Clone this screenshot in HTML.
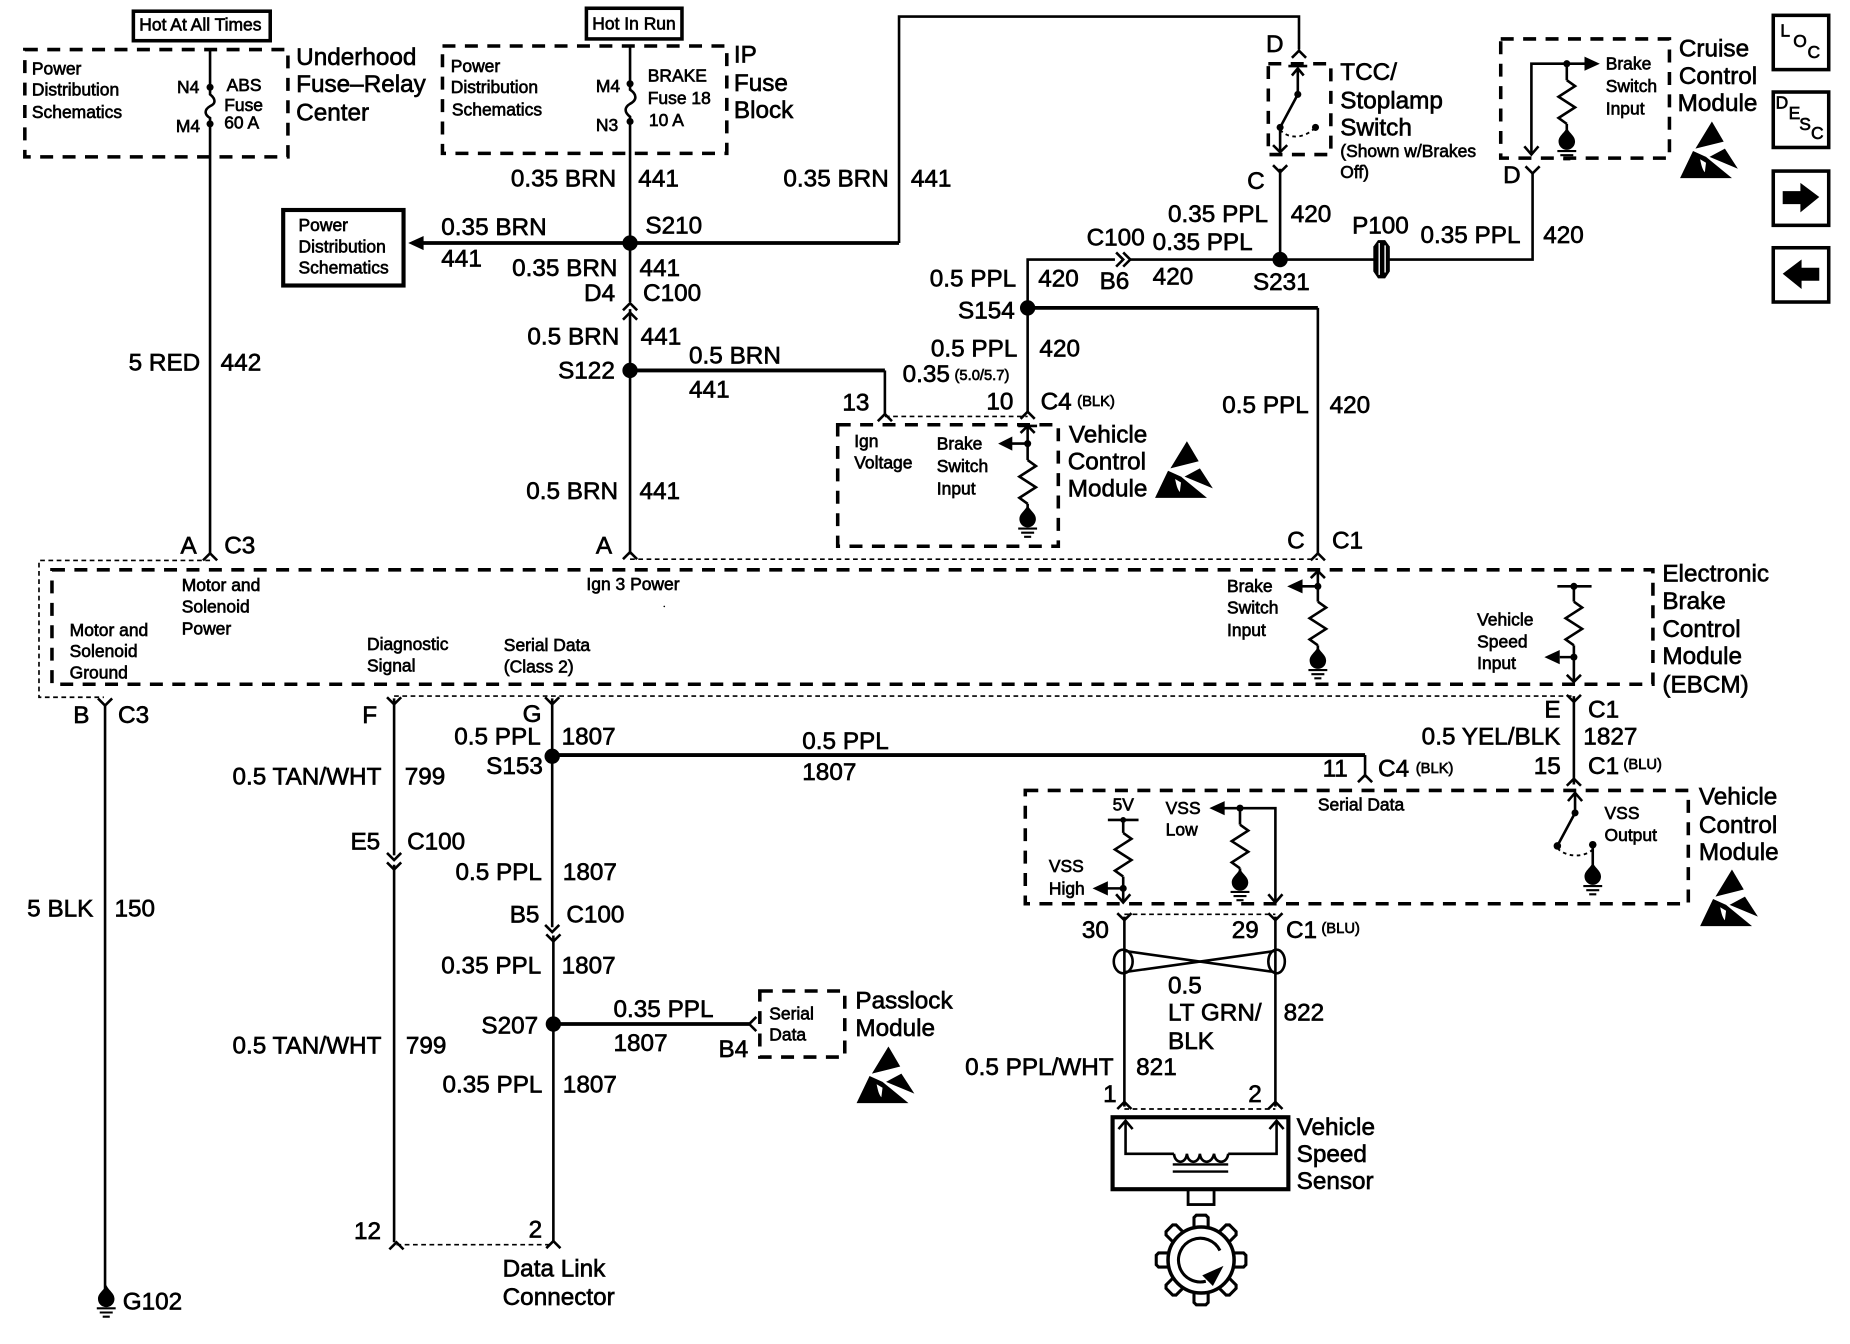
<!DOCTYPE html>
<html><head><meta charset="utf-8"><style>
html,body{margin:0;padding:0;background:#fff}
svg{display:block}
text{font-family:"Liberation Sans",sans-serif;fill:#000;stroke:#000;stroke-width:.55}
.b{font-size:20.6px}
.s{font-size:14.8px;stroke-width:.45}
.t{font-size:12.5px;stroke-width:.45}
.w{fill:none;stroke:#000;stroke-width:2.2}
.h{fill:none;stroke:#000;stroke-width:3.2}
.d{fill:none;stroke:#000;stroke-width:3;stroke-dasharray:11 8}
.f{fill:none;stroke:#000;stroke-width:1.4;stroke-dasharray:4 3}
.k{fill:#000;stroke:none}
</style></head><body>
<svg xmlns="http://www.w3.org/2000/svg" width="1850" height="1344" viewBox="0 0 1568 1139.2">
<defs>
<path id="up" d="M-6 6L0 0L6 6" fill="none" stroke="#000" stroke-width="2.2"/>
<path id="dn" d="M-6 -6L0 0L6 -6" fill="none" stroke="#000" stroke-width="2.2"/>
<path id="res" d="M0 0L7 5L-7 14L7 23L-7 32L0 37" fill="none" stroke="#000" stroke-width="2.2"/>
<g id="gnd"><path d="M0 -9C2 -4 7 -2 7 3A7 7 0 0 1 -7 3C-7 -2 -2 -4 0 -9Z" fill="#000"/><path d="M-8 11H8M-5.5 14.5H5.5M-3 18H3" stroke="#000" stroke-width="1.8" fill="none"/></g>
<g id="esd"><path d="M27 0L37 17L13 23Z" fill="#000"/><path d="M38 23L49 40L25 30Z" fill="#000"/><path d="M0 48L11 25L22 30L44 48Z" fill="#000"/><path d="M17 32C18 37 19 41 21 43L22 35Z" fill="#fff"/></g>
<path id="tooth" d="M-6 -28V-36L-4 -38H4L6 -36V-28" fill="none" stroke="#000" stroke-width="2.6"/>
</defs>

<!-- boxes -->
<rect x="113" y="9.5" width="116" height="25" fill="none" stroke="#000" stroke-width="3"/>
<rect x="497" y="7" width="81" height="26" fill="none" stroke="#000" stroke-width="3"/>
<rect x="21" y="42" width="223" height="91" class="d"/>
<rect x="375" y="39" width="241" height="91" class="d"/>
<rect x="240" y="178" width="102" height="64" fill="none" stroke="#000" stroke-width="3.5"/>
<rect x="710" y="360" width="187" height="103" class="d"/>
<rect x="1075" y="54" width="53" height="77" class="d"/>
<rect x="1272" y="33" width="143" height="101" class="d"/>
<rect x="44" y="483" width="1357" height="97" class="d"/>
<rect x="644" y="840" width="72" height="56" class="d"/>
<rect x="869" y="670" width="562" height="96" class="d"/>
<path class="f" d="M178 475H33V591H88M334 590H1333M534 474H1117M750 353H871M336 1055H468M953 775H1081M953 940H1081"/>
<circle cx="563" cy="514" r=".7" class="k"/>

<!-- main wires -->
<path class="w" d="M178 41V80C183 84 183 88 178 90C173 93 173 97 178 100V470"/>
<path class="w" d="M534 39V76C540 80 540 85 534 88C529 91 529 95 534 99V256M534 262V470"/>
<path class="h" d="M358 206H762"/>
<path class="w" d="M762 206V14H1101V42"/>
<path class="h" d="M534 314H750"/><path class="w" d="M750 314V352"/>
<path class="w" d="M871 350V220H945M958 220H1166M1176 220H1299V146"/>
<path class="h" d="M871 261H1117"/><path class="w" d="M1117 261V470"/>
<path class="w" d="M1085 220V143"/>
<path class="w" d="M89 597V1095"/>
<path class="w" d="M334 592V725M334 733V1053"/>
<path class="w" d="M468 592V786M469 793V1052"/>
<path class="h" d="M468 640H1157"/><path class="w" d="M1157 640V659"/>
<path class="h" d="M469 868H635"/>
<path class="w" d="M1334 590V665"/>
<path class="w" d="M953 777V938M1081 777V938"/>

<!-- chevrons -->
<use href="#up" x="178" y="469"/><use href="#up" x="534" y="468"/><use href="#up" x="1117" y="469"/>
<use href="#up" x="534" y="257"/><use href="#up" x="534" y="265"/>
<use href="#up" x="1101" y="43"/><use href="#up" x="750" y="351"/><use href="#up" x="871" y="349"/>
<use href="#dn" x="1085" y="146"/><use href="#dn" x="1299" y="147"/>
<use href="#dn" x="89" y="598"/><use href="#dn" x="334" y="597"/><use href="#dn" x="468" y="597"/><use href="#dn" x="1334" y="595"/>
<use href="#dn" x="334" y="729"/><use href="#dn" x="334" y="737"/>
<use href="#dn" x="468" y="790"/><use href="#dn" x="469" y="798"/>
<use href="#up" x="336" y="1053"/><use href="#up" x="469" y="1052"/>
<use href="#up" x="1157" y="657"/><use href="#up" x="1334" y="660"/>
<use href="#dn" x="953" y="780"/><use href="#dn" x="1081" y="780"/>
<use href="#up" x="953" y="934"/><use href="#up" x="1081" y="934"/>
<path class="w" d="M641 862L635 868L641 874"/>
<path d="M946 214L952 220L946 226M952 214L958 220L952 226" class="w"/>

<!-- dots -->
<g class="k">
<circle cx="534" cy="206" r="6.5"/><circle cx="534" cy="314" r="6.5"/><circle cx="871" cy="261" r="6.5"/><circle cx="1085" cy="220" r="6.5"/><circle cx="468" cy="641" r="6.5"/><circle cx="469" cy="868" r="6.5"/>
<circle cx="178" cy="74" r="3"/><circle cx="178" cy="105" r="3"/><circle cx="534" cy="71" r="3"/><circle cx="534" cy="103" r="3"/>
<path d="M346 206L359 200V212Z"/>
</g>

<!-- P100 -->
<path class="k" d="M1164 209L1168 203.5H1174L1178 209V230L1174 236H1168L1164 230Z"/>
<path d="M1169 206V233M1174 208V231" stroke="#fff" stroke-width="1.2" fill="none"/>

<!-- TCC switch -->
<path class="w" d="M1092 56H1108M1100 58V80L1085 108V129"/>
<path class="w" d="M1095 64L1100 58L1105 64M1079 123L1085 129L1091 123"/>
<circle cx="1100" cy="80" r="3" class="k"/><circle cx="1085" cy="108" r="3" class="k"/><circle cx="1115" cy="108" r="3" class="k"/>
<path d="M1085 110C1092 118 1105 118 1115 108" fill="none" stroke="#000" stroke-width="1.6" stroke-dasharray="3 3"/>

<!-- Cruise internals -->
<path class="w" d="M1298 130V54H1345"/>
<path class="w" d="M1292 124L1298 131L1304 124"/>
<path class="k" d="M1356 54L1343 48V60Z"/>
<circle cx="1328" cy="54" r="3" class="k"/>
<path class="w" d="M1328 54V68M1328 105V112"/>
<use href="#res" x="1328" y="68"/>
<use href="#gnd" x="1328" y="117"/>
<use href="#esd" x="1424" y="103"/>

<!-- VCM1 internals -->
<path class="w" d="M863 361H879M871 361V390M871 427V432M865 367L871 361L877 367M857 376H871"/>
<path class="k" d="M846 376L858 370V382Z"/><circle cx="871" cy="376" r="3" class="k"/>
<use href="#res" x="871" y="390"/>
<use href="#gnd" x="871" y="437"/>
<use href="#esd" x="979" y="374"/>

<!-- EBCM internals -->
<path class="w" d="M1117 484V510M1117 547V552M1111 490L1117 484L1123 490M1103 497H1117"/>
<path class="k" d="M1091 497L1104 491V503Z"/><circle cx="1117" cy="497" r="3" class="k"/>
<use href="#res" x="1117" y="510"/>
<use href="#gnd" x="1117" y="557"/>
<path class="w" d="M1320 497H1349M1334 497V510M1334 547V578M1322 557H1334M1328 572L1334 578L1340 572"/>
<path class="k" d="M1309 557L1322 551V563Z"/><circle cx="1334" cy="497" r="3" class="k"/><circle cx="1334" cy="557" r="3" class="k"/>
<use href="#res" x="1334" y="510"/>

<!-- VCM2 internals -->
<path class="w" d="M1335 673V689L1320 717M1329 679L1335 672L1341 679"/>
<circle cx="1335" cy="689" r="3" class="k"/><circle cx="1320" cy="717" r="3.2" class="k"/><circle cx="1350" cy="716" r="3.2" class="k"/>
<path d="M1320 719C1328 727 1343 727 1350 720" fill="none" stroke="#000" stroke-width="1.6" stroke-dasharray="3 3"/>
<path class="w" d="M1350 716V735"/><use href="#gnd" x="1350" y="740"/>
<use href="#esd" x="1441" y="737"/>
<path class="w" d="M939 695H965M952 695V706M952 743V764M938 753H952M946 758L952 765L958 758"/>
<circle cx="952" cy="695" r="2.5" class="k"/><circle cx="952" cy="753" r="3" class="k"/>
<path class="k" d="M926 753L939 747V759Z"/>
<use href="#res" x="952" y="706"/>
<path class="w" d="M1037 685H1081V764M1075 758L1081 765L1087 758M1051 685V699M1051 736V741"/>
<path class="k" d="M1025 685L1038 679V691Z"/><circle cx="1051" cy="685" r="3" class="k"/>
<use href="#res" x="1051" y="699"/>
<use href="#gnd" x="1051" y="745"/>

<!-- twisted pair -->
<path class="w" d="M953 806L1081 824M953 824L1081 806"/>
<ellipse cx="952" cy="815" rx="8" ry="10" class="w"/>
<ellipse cx="1082" cy="815" rx="7" ry="10" class="w"/>

<!-- sensor -->
<rect x="943" y="947" width="149" height="61" fill="none" stroke="#000" stroke-width="3.5"/>
<path class="w" d="M954 951V978H995M1041 978H1082V951M948 957L954 950L960 957M1076 957L1082 950L1088 957"/>
<path class="w" d="M995 978C996 987 1005 987 1006 978C1007 987 1016 987 1017 978C1018 987 1027 987 1029 978C1030 987 1040 987 1041 978"/>
<path d="M994 987H1041M994 993H1041" stroke="#000" stroke-width="2" fill="none"/>
<rect x="1007" y="1008" width="22" height="13" fill="none" stroke="#000" stroke-width="2.4"/>
<!-- gear -->
<circle cx="1018" cy="1068" r="28" fill="none" stroke="#000" stroke-width="3"/>
<g transform="translate(1018 1068)">
<use href="#tooth"/><use href="#tooth" transform="rotate(45)"/><use href="#tooth" transform="rotate(90)"/><use href="#tooth" transform="rotate(135)"/><use href="#tooth" transform="rotate(180)"/><use href="#tooth" transform="rotate(225)"/><use href="#tooth" transform="rotate(270)"/><use href="#tooth" transform="rotate(315)"/>
</g>
<path d="M1034 1060A18.5 18.5 0 1 0 1022 1086" fill="none" stroke="#000" stroke-width="2.6"/>
<path class="k" d="M1037 1073L1019 1081L1028 1090Z"/>

<!-- nav buttons -->
<g fill="none" stroke="#000" stroke-width="3">
<rect x="1503" y="13" width="47" height="46"/><rect x="1503" y="78" width="47" height="47"/><rect x="1503" y="145" width="47" height="46"/><rect x="1503" y="210" width="47" height="46"/>
</g>
<path class="k" d="M1511 162H1526V155L1542 167L1526 180V173H1511Z"/>
<path class="k" d="M1542 227H1527V220L1511 232L1527 245V238H1542Z"/>
<g class="s"><text x="1509" y="31">L</text><text x="1520" y="40">O</text><text x="1532" y="49">C</text><text x="1505" y="92">D</text><text x="1516" y="101">E</text><text x="1525" y="110">S</text><text x="1535" y="118">C</text></g>

<use href="#esd" x="726" y="887"/>
<use href="#gnd" x="90" y="1098"/>

<!-- big text -->
<g class="b">
<text x="251" y="55">Underhood</text><text x="251" y="78">Fuse–Relay</text><text x="251" y="102">Center</text>
<text x="622" y="53">IP</text><text x="622" y="77">Fuse</text><text x="622" y="100">Block</text>
<text x="433" y="158">0.35 BRN</text><text x="541" y="158">441</text>
<text x="664" y="158">0.35 BRN</text><text x="772" y="158">441</text>
<text x="547" y="198">S210</text><text x="374" y="199">0.35 BRN</text><text x="374" y="226">441</text>
<text x="434" y="234">0.35 BRN</text><text x="542" y="234">441</text><text x="495" y="255">D4</text><text x="545" y="255">C100</text>
<text x="447" y="292">0.5 BRN</text><text x="543" y="292">441</text>
<text x="584" y="308">0.5 BRN</text><text x="584" y="337">441</text><text x="473" y="321">S122</text><text x="714" y="348">13</text>
<text x="109" y="314">5 RED</text><text x="187" y="314">442</text>
<text x="446" y="423">0.5 BRN</text><text x="542" y="423">441</text>
<text x="153" y="469">A</text><text x="190" y="469">C3</text><text x="505" y="469">A</text>
<text x="1091" y="465">C</text><text x="1129" y="465">C1</text>
<text x="990" y="188">0.35 PPL</text><text x="1094" y="188">420</text>
<text x="921" y="208">C100</text><text x="977" y="212">0.35 PPL</text><text x="977" y="241">420</text><text x="932" y="245">B6</text>
<text x="1062" y="246">S231</text><text x="1146" y="198">P100</text><text x="1204" y="206">0.35 PPL</text><text x="1308" y="206">420</text>
<text x="788" y="243">0.5 PPL</text><text x="880" y="243">420</text><text x="812" y="270">S154</text>
<text x="789" y="302">0.5 PPL</text><text x="881" y="302">420</text><text x="765" y="324">0.35</text>
<text x="836" y="347">10</text><text x="882" y="347">C4</text>
<text x="1036" y="350">0.5 PPL</text><text x="1127" y="350">420</text>
<text x="1073" y="44">D</text><text x="1057" y="160">C</text><text x="1274" y="155">D</text>
<text x="1136" y="68">TCC/</text><text x="1136" y="92">Stoplamp</text><text x="1136" y="115">Switch</text>
<text x="1423" y="48">Cruise</text><text x="1423" y="71">Control</text><text x="1422" y="94">Module</text>
<text x="906" y="375">Vehicle</text><text x="905" y="398">Control</text><text x="905" y="421">Module</text>
<text x="1409" y="493">Electronic</text><text x="1409" y="516">Brake</text><text x="1409" y="540">Control</text><text x="1409" y="563">Module</text><text x="1409" y="587">(EBCM)</text>
<text x="62" y="613">B</text><text x="100" y="613">C3</text><text x="307" y="613">F</text><text x="443" y="612">G</text>
<text x="385" y="631">0.5 PPL</text><text x="476" y="631">1807</text><text x="412" y="656">S153</text>
<text x="197" y="665">0.5 TAN/WHT</text><text x="343" y="665">799</text>
<text x="297" y="720">E5</text><text x="345" y="720">C100</text>
<text x="386" y="746">0.5 PPL</text><text x="477" y="746">1807</text><text x="432" y="782">B5</text><text x="480" y="782">C100</text>
<text x="374" y="825">0.35 PPL</text><text x="476" y="825">1807</text><text x="408" y="876">S207</text>
<text x="520" y="862">0.35 PPL</text><text x="520" y="891">1807</text><text x="609" y="896">B4</text>
<text x="197" y="893">0.5 TAN/WHT</text><text x="344" y="893">799</text>
<text x="375" y="926">0.35 PPL</text><text x="477" y="926">1807</text>
<text x="300" y="1050">12</text><text x="448" y="1049">2</text>
<text x="426" y="1082">Data Link</text><text x="426" y="1106">Connector</text>
<text x="104" y="1110">G102</text><text x="23" y="777">5 BLK</text><text x="97" y="777">150</text>
<text x="680" y="635">0.5 PPL</text><text x="680" y="661">1807</text>
<text x="1121" y="658">11</text><text x="1168" y="658">C4</text><text x="1300" y="656">15</text><text x="1346" y="656">C1</text>
<text x="1309" y="608">E</text><text x="1346" y="608">C1</text>
<text x="1205" y="631">0.5 YEL/BLK</text><text x="1342" y="631">1827</text>
<text x="1440" y="682">Vehicle</text><text x="1440" y="706">Control</text><text x="1440" y="729">Module</text>
<text x="725" y="855">Passlock</text><text x="725" y="878">Module</text>
<text x="917" y="795">30</text><text x="1044" y="795">29</text><text x="1090" y="795">C1</text>
<text x="990" y="842">0.5</text><text x="990" y="865">LT GRN/</text><text x="990" y="889">BLK</text><text x="1088" y="865">822</text>
<text x="818" y="911">0.5 PPL/WHT</text><text x="963" y="911">821</text><text x="935" y="934">1</text><text x="1058" y="934">2</text>
<text x="1099" y="962">Vehicle</text><text x="1099" y="985">Speed</text><text x="1099" y="1008">Sensor</text>
</g>

<!-- small text -->
<g class="s">
<text x="118" y="26">Hot At All Times</text><text x="502" y="25">Hot In Run</text>
<text x="27" y="63">Power</text><text x="27" y="81">Distribution</text><text x="27" y="100">Schematics</text>
<text x="150" y="79">N4</text><text x="149" y="112">M4</text><text x="192" y="77">ABS</text><text x="190" y="94">Fuse</text><text x="190" y="109">60 A</text>
<text x="382" y="61">Power</text><text x="382" y="79">Distribution</text><text x="383" y="98">Schematics</text>
<text x="505" y="78">M4</text><text x="505" y="111">N3</text><text x="549" y="69">BRAKE</text><text x="549" y="88">Fuse 18</text><text x="550" y="107">10 A</text>
<text x="253" y="196">Power</text><text x="253" y="214">Distribution</text><text x="253" y="232">Schematics</text>
<text x="724" y="379">Ign</text><text x="724" y="397">Voltage</text>
<text x="794" y="381">Brake</text><text x="794" y="400">Switch</text><text x="794" y="419">Input</text>
<text x="1361" y="59">Brake</text><text x="1361" y="78">Switch</text><text x="1361" y="97">Input</text>
<text x="154" y="501">Motor and</text><text x="154" y="519">Solenoid</text><text x="154" y="538">Power</text>
<text x="59" y="539">Motor and</text><text x="59" y="557">Solenoid</text><text x="59" y="575">Ground</text>
<text x="497" y="500">Ign 3 Power</text>
<text x="311" y="551">Diagnostic</text><text x="311" y="569">Signal</text>
<text x="427" y="552">Serial Data</text><text x="427" y="570">(Class 2)</text>
<text x="1040" y="502">Brake</text><text x="1040" y="520">Switch</text><text x="1040" y="539">Input</text>
<text x="1252" y="530">Vehicle</text><text x="1252" y="549">Speed</text><text x="1252" y="567">Input</text>
<text x="652" y="864">Serial</text><text x="652" y="882">Data</text>
<text x="1117" y="687">Serial Data</text>
<text x="943" y="687">5V</text><text x="988" y="690">VSS</text><text x="988" y="708">Low</text>
<text x="889" y="739">VSS</text><text x="889" y="758">High</text>
<text x="1360" y="694">VSS</text><text x="1360" y="713">Output</text>
<text x="1136" y="133">(Shown w/Brakes</text><text x="1136" y="151">Off)</text>
</g>
<g class="t">
<text x="809" y="322">(5.0/5.7)</text><text x="913" y="344">(BLK)</text><text x="1200" y="655">(BLK)</text><text x="1376" y="652">(BLU)</text><text x="1120" y="791">(BLU)</text>
</g>
</svg>
</body></html>
